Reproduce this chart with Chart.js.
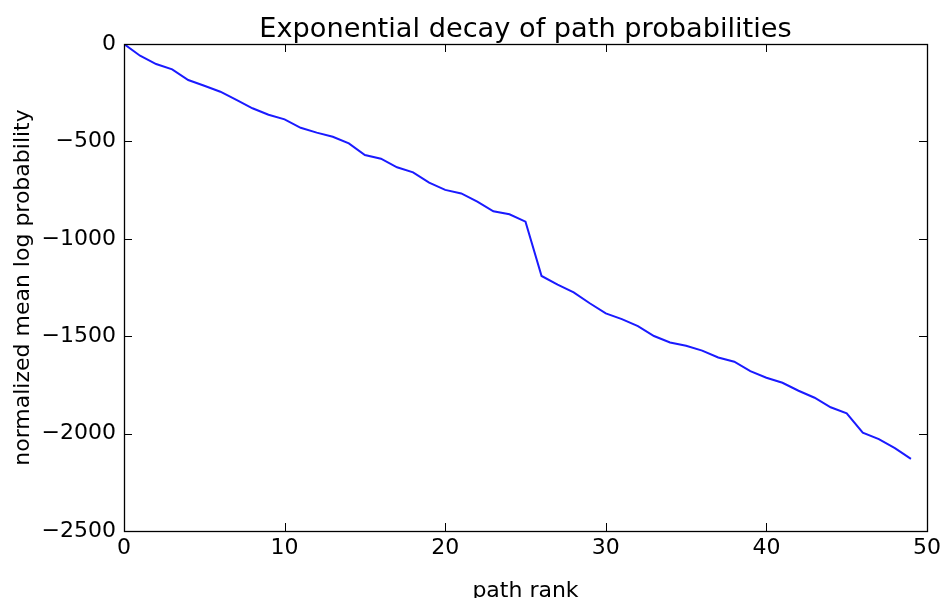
<!DOCTYPE html>
<html>
<head>
<meta charset="utf-8">
<script src="https://cdn.jsdelivr.net/npm/chart.js@4/dist/chart.umd.min.js"></script>
<style>
  html, body { margin: 0; padding: 0; background: #ffffff; }
  #wrap { width: 945px; height: 598px; }
</style>
</head>
<body>
<div id="wrap"><canvas id="c" width="945" height="598"></canvas></div>
<script>
const chartTitle = "Exponential decay of path probabilities";
const xLabel = "path rank";
const yLabel = "normalized mean log probability";
const ranks = [0,1,2,3,4,5,6,7,8,9,10,11,12,13,14,15,16,17,18,19,20,21,22,23,24,25,26,27,28,29,30,31,32,33,34,35,36,37,38,39,40,41,42,43,44,45,46,47,48,49];
const logProb = [0,-60,-103,-130,-185,-214,-245,-287,-330,-363,
                 -387,-430,-455,-476,-510,-570,-589,-633,-659,-712,
                 -749,-767,-809,-859,-874,-912,-1191,-1235,-1275,-1331,
                 -1383,-1412,-1448,-1499,-1532,-1549,-1574,-1609,-1631,-1679,
                 -1713,-1739,-1780,-1816,-1865,-1896,-1995,-2028,-2075,-2130];
const xTicks = [0,10,20,30,40,50];
const yTicks = [0,-500,-1000,-1500,-2000,-2500];

const FONT = "'DejaVu Sans', sans-serif";

const framePlugin = {
  id: 'frame',
  afterDraw(chart) {
    const {ctx, chartArea: {left, right, top, bottom}, scales: {x, y}} = chart;
    const L = 8;
    ctx.save();
    ctx.strokeStyle = '#000';
    ctx.lineWidth = 1;
    ctx.beginPath();
    x.ticks.forEach(t => {
      const px = Math.round(x.getPixelForValue(t.value)) + 0.5;
      ctx.moveTo(px, bottom); ctx.lineTo(px, bottom - L);
      ctx.moveTo(px, top); ctx.lineTo(px, top + L);
    });
    y.ticks.forEach(t => {
      const py = Math.round(y.getPixelForValue(t.value)) + 0.5;
      ctx.moveTo(left, py); ctx.lineTo(left + L, py);
      ctx.moveTo(right, py); ctx.lineTo(right - L, py);
    });
    ctx.stroke();
    ctx.lineWidth = 1.3;
    ctx.strokeRect(Math.round(left) + 0.5, Math.round(top) + 0.5, Math.round(right - left), Math.round(bottom - top));
    // title
    ctx.fillStyle = '#000';
    ctx.font = "27.2px " + FONT;
    ctx.textAlign = 'center';
    ctx.textBaseline = 'alphabetic';
    ctx.fillText(chartTitle, (left + right) / 2, 37);
    ctx.restore();
  }
};

const fmt = v => String(v).replace('-', '\u2212');

new Chart(document.getElementById('c'), {
  type: 'line',
  data: {
    datasets: [{
      data: ranks.map((r, i) => ({x: r, y: logProb[i]})),
      borderColor: '#1a1aff',
      borderWidth: 2,
      pointRadius: 0,
      tension: 0,
      fill: false
    }]
  },
  options: {
    responsive: false,
    animation: false,
    layout: { padding: { left: 0, right: 17, top: 44, bottom: 0 } },
    plugins: { legend: { display: false }, tooltip: { enabled: false }, title: { display: false } },
    scales: {
      x: {
        type: 'linear', min: 0, max: 50,
        afterBuildTicks: s => { s.ticks = xTicks.map(v => ({value: v})); },
        afterFit: s => { s.height = 67; },
        grid: { display: false, drawTicks: false },
        border: { display: false },
        ticks: { autoSkip: false, maxRotation: 0, padding: 4, color: '#000', font: { family: FONT, size: 22 }, callback: v => fmt(v) },
        title: { display: true, text: xLabel, color: '#000', font: { family: FONT, size: 22, lineHeight: 1 }, padding: { top: 0, bottom: -4 } }
      },
      y: {
        type: 'linear', min: -2500, max: 0,
        afterBuildTicks: s => { s.ticks = yTicks.map(v => ({value: v})); },
        afterFit: s => { s.width = 124; },
        grid: { display: false, drawTicks: false },
        border: { display: false },
        ticks: { autoSkip: false, padding: 8, color: '#000', font: { family: FONT, size: 22 }, callback: v => fmt(v) },
        title: { display: true, text: yLabel, color: '#000', font: { family: FONT, size: 22, lineHeight: 1 }, padding: { top: 12, bottom: 0 } }
      }
    }
  },
  plugins: [framePlugin]
});
</script>
</body>
</html>
